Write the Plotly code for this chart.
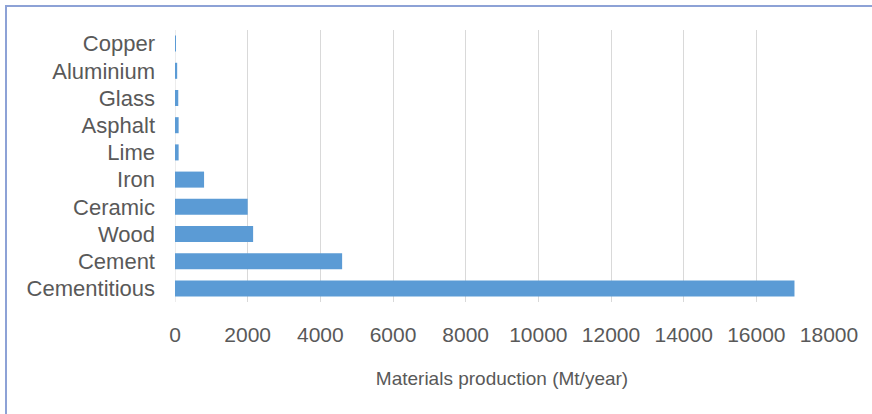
import plotly.graph_objects as go

materials = ["Cementitious", "Cement", "Wood", "Ceramic", "Iron", "Lime", "Asphalt", "Glass", "Aluminium", "Copper"]
production = [17050, 4600, 2150, 2000, 800, 100, 100, 90, 60, 20]
x_ticks = [0, 2000, 4000, 6000, 8000, 10000, 12000, 14000, 16000, 18000]

W, H = 872, 414
L, R, T, B = 175, 43, 30, 112
pw, ph = W - L - R, H - T - B

fig = go.Figure(go.Bar(
    x=production, y=materials, orientation="h",
    marker=dict(color="#5B9BD5", line=dict(width=0)),
))

def px_x(p):
    return (p - L) / pw

def px_y(p):
    return 1 - (p - T) / ph

fig.update_layout(
    width=W, height=H,
    margin=dict(l=L, r=R, t=T, b=B),
    paper_bgcolor="white", plot_bgcolor="white",
    bargap=0.41,
    showlegend=False,
    font=dict(family="Liberation Sans, Arial, sans-serif", size=21, color="#595959"),
    xaxis=dict(
        range=[0, 18000], tickvals=x_ticks, ticktext=[str(v) for v in x_ticks],
        showgrid=True, gridcolor="#D9D9D9", gridwidth=1,
        zeroline=False, showline=False, ticks="", ticklabelstandoff=18,
        tickfont=dict(size=21),
        title=dict(text="Materials production (Mt/year)", standoff=26,
                   font=dict(size=19, color="#595959")),
    ),
    yaxis=dict(
        showgrid=False, zeroline=False, showline=False, ticks="",
        ticklabelstandoff=19, tickfont=dict(size=22),
    ),
    shapes=[
        dict(type="line", xref="paper", yref="paper",
             x0=px_x(5), x1=px_x(872), y0=px_y(6), y1=px_y(6),
             line=dict(color="#8DA2D6", width=2)),
        dict(type="line", xref="paper", yref="paper",
             x0=px_x(6), x1=px_x(6), y0=px_y(5), y1=px_y(414),
             line=dict(color="#8DA2D6", width=2)),
        dict(type="line", xref="x", yref="paper",
             x0=0, x1=0, y0=0, y1=1,
             line=dict(color="#D9D9D9", width=1), layer="below"),
    ],
)

fig.write_html("out.html", config={"displayModeBar": False},
               post_script="document.body.style.margin='0';document.body.style.overflow='hidden';")
